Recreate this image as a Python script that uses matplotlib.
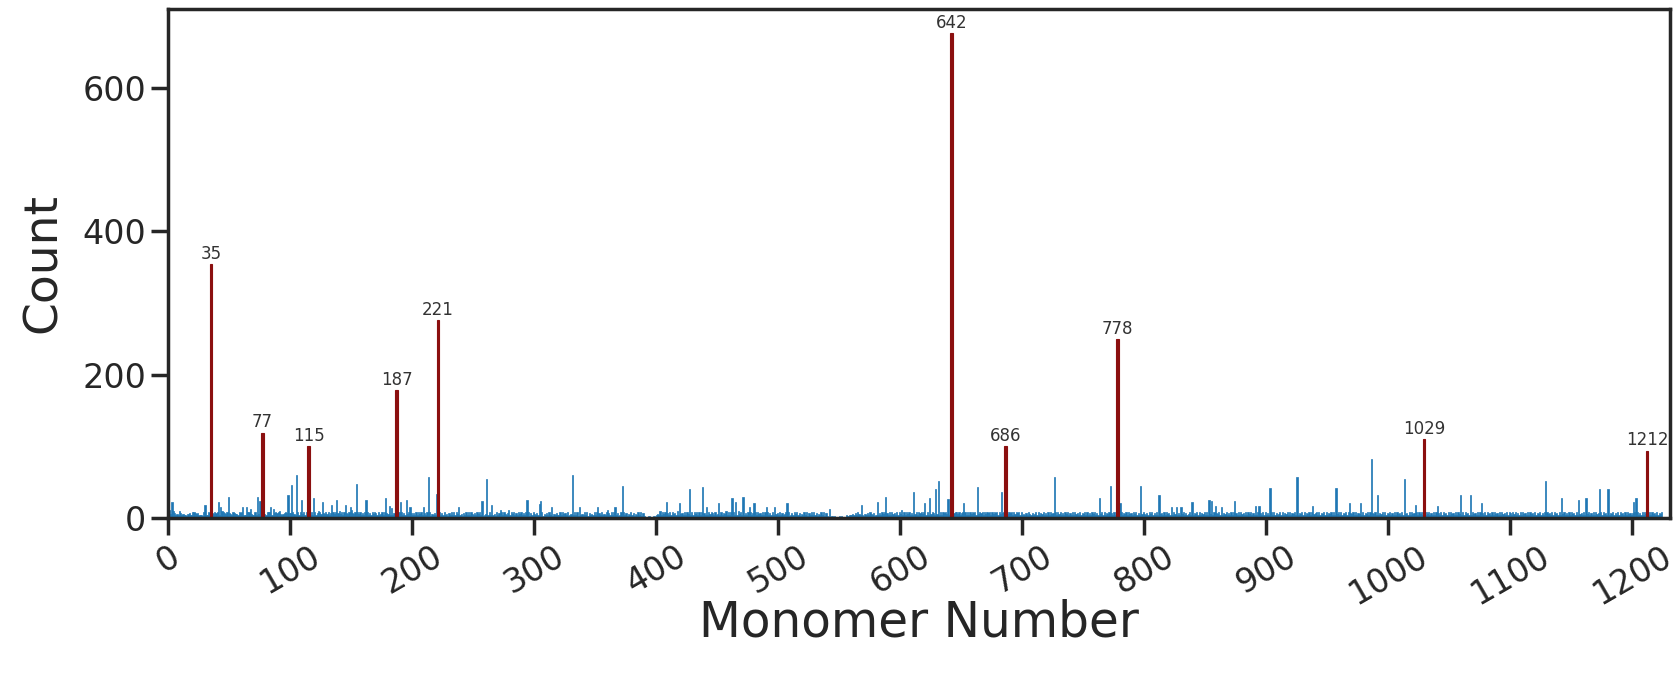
import numpy as np
import matplotlib
matplotlib.use("Agg")
import matplotlib.pyplot as plt
import seaborn as sns

# low-level counts, one base-36 character per monomer
base_000 = "9b68a7564a 7564536755 9876754438 6559747697 8756a97688 7658766597 9545789765 5845697676 5888658797 9a65678757"
base_100 = "7896568497 6958674856 957a864769 6847586957 a684957685 4768596847 5968475869 7584695847 6859476a58 6947586957"
base_200 = "5748596846 7584936475 8694758463 7584958674 6375849586 4758694735 6849574638 5749586473 5968475869 4758693748"
base_300 = "6475849364 7584936475 4859674835 6749583746 5849374658 4937584659 3748596473 5869473658 4736584937 3212322132"
base_400 = "5647586957 4859674a58 6749586749 5869495867 4958687495 6849576a48 5968475a69 5847596857 4958675849 6857495867"
base_500 = "4857469583 4759684736 5849374859 4736584937 3222323122 3232214354 5647586475 3647586473 5647586957 4859674859"
base_600 = "6758496857 5869597968 7584969758 6958497968 5869798695 7968594968 7959687958 6979586978 5969785968 7958697958"
base_700 = "5647586475 6859476857 4958674859 6847586957 4859674857 6958475869 4758695847 6957485967 5847695867 5968475869"
base_800 = "6475869574 8596749586 7495968475 9684756948 5769485768 4957685947 6859476857 5948675849 6758496857 4859674859"
base_900 = "5746859475 6948576849 5768495768 4957684956 7849576849 5768495768 4957684957 6849576849 5768495768 4957684957"
base_1000 = "6857495867 5948675849 6758496857 4968574958 6749586749 5867495867 4958674958 6749586749 5867495867 4958674958"
base_1100 = "7586957485 9674859674 8576957485 9674859674 8576957485 9674859674 8576957485 9674859674 8576957485 9674859674"
base_1200 = "7586957485 9674859674 85769"

# taller blue bars
peak_pos = [3, 30, 41, 43, 49, 61, 64, 67, 73, 75, 84, 86, 98, 101, 105, 109, 119, 126, 134,
            138, 145, 149, 150, 154, 162, 178, 181, 183, 190, 195, 198, 209, 213, 220, 238,
            257, 261, 265, 272, 279, 294, 304, 305, 314, 331, 337, 352, 360, 366, 372, 403,
            408, 419, 427, 438, 441, 451, 462, 465, 471, 476, 480, 490, 497, 507, 542, 568,
            581, 588, 601, 611, 620, 624, 629, 631, 639, 652, 663, 683, 726, 763, 772, 780,
            797, 812, 822, 826, 830, 839, 853, 855, 858, 863, 874, 891, 894, 903, 925, 938,
            957, 968, 977, 986, 991, 1013, 1022, 1040, 1059, 1067, 1076, 1129, 1142, 1156,
            1162, 1173, 1180, 1201, 1203]
peak_val = [23, 18, 23, 16, 30, 15, 15, 13, 30, 24, 15, 13, 32, 46, 60, 25, 28, 23, 18,
            26, 19, 15, 12, 48, 26, 28, 17, 14, 22, 26, 15, 15, 57, 34, 15,
            24, 54, 19, 12, 11, 26, 20, 24, 15, 60, 15, 15, 12, 15, 45, 10,
            22, 21, 40, 43, 15, 21, 28, 23, 30, 16, 21, 16, 16, 21, 13, 19,
            23, 30, 12, 36, 21, 28, 40, 52, 27, 21, 43, 36, 58, 28, 45, 21,
            45, 33, 16, 16, 16, 23, 26, 24, 17, 16, 24, 17, 17, 42, 57, 17,
            42, 21, 21, 82, 33, 54, 19, 17, 33, 33, 21, 52, 28, 25,
            28, 40, 40, 22, 28]

# highlighted monomers
hot_pos = [35, 77, 115, 187, 221, 642, 686, 778, 1029, 1212]
hot_val = [354, 119, 100, 178, 276, 676, 100, 249, 110, 94]

base = "".join([base_000, base_100, base_200, base_300, base_400, base_500, base_600,
                base_700, base_800, base_900, base_1000, base_1100, base_1200])
counts = np.array([int(c, 36) for c in base.replace(" ", "")])
counts[peak_pos] = peak_val
counts[hot_pos] = 0
x = np.arange(len(counts))

sns.set_theme(style="ticks", context="poster")

fig, ax = plt.subplots(figsize=(16.78, 6.73))
ax.bar(x, counts, width=1.0, color="#1f77b4", edgecolor="#1f77b4", linewidth=0.5)
ax.bar(hot_pos, hot_val, width=2.0, color="#8b0f0f", edgecolor="#8b0f0f", linewidth=0.8)
for p, v in zip(hot_pos, hot_val):
    ax.text(p, v + 2, str(p), ha="center", va="bottom", fontsize=12, color=".2")

ax.set_xlim(-0.5, 1230.5)
ax.set_xticks(range(0, 1201, 100))
ax.set_yticks([0, 200, 400, 600])
plt.setp(ax.get_xticklabels(), rotation=30)
ax.tick_params(labelsize=24)
ax.set_xlabel("Monomer Number", fontsize=35, labelpad=-9)
ax.set_ylabel("Count", fontsize=34, labelpad=12)

fig.subplots_adjust(left=0.100, right=0.995, top=0.987, bottom=0.230)
fig.savefig("out.png", dpi=100)
